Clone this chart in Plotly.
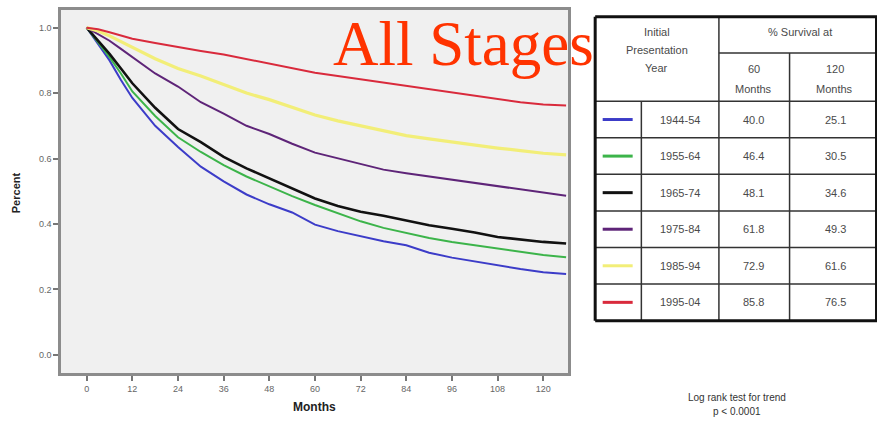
import plotly.graph_objects as go

# ---------------- data ----------------
months = [0, 3, 6, 9, 12, 18, 24, 30, 36, 42, 48, 54, 60, 66, 72, 78, 84, 90, 96, 102, 108, 114, 120, 126]

s_1944_54 = [1.0, 0.95, 0.90, 0.84, 0.785, 0.70, 0.635, 0.575, 0.53, 0.49, 0.46, 0.435, 0.398, 0.378, 0.362, 0.347, 0.335, 0.312, 0.297, 0.285, 0.272, 0.262, 0.252, 0.247]
s_1955_64 = [1.0, 0.955, 0.91, 0.86, 0.805, 0.73, 0.665, 0.62, 0.58, 0.545, 0.515, 0.485, 0.458, 0.432, 0.408, 0.388, 0.372, 0.357, 0.345, 0.335, 0.324, 0.313, 0.305, 0.298]
s_1965_74 = [1.0, 0.96, 0.92, 0.875, 0.83, 0.755, 0.69, 0.65, 0.605, 0.57, 0.54, 0.51, 0.478, 0.455, 0.437, 0.425, 0.41, 0.396, 0.385, 0.374, 0.36, 0.352, 0.345, 0.34]
s_1975_84 = [1.0, 0.98, 0.96, 0.935, 0.91, 0.86, 0.82, 0.772, 0.737, 0.70, 0.675, 0.645, 0.618, 0.60, 0.582, 0.566, 0.555, 0.545, 0.535, 0.525, 0.515, 0.505, 0.494, 0.486]
s_1985_94 = [1.0, 0.99, 0.975, 0.957, 0.94, 0.905, 0.875, 0.852, 0.826, 0.80, 0.78, 0.756, 0.733, 0.715, 0.70, 0.685, 0.67, 0.66, 0.65, 0.64, 0.632, 0.624, 0.616, 0.611]
s_1995_04 = [1.0, 0.995, 0.986, 0.977, 0.966, 0.953, 0.94, 0.929, 0.918, 0.904, 0.89, 0.877, 0.862, 0.852, 0.842, 0.83, 0.82, 0.81, 0.80, 0.79, 0.78, 0.772, 0.765, 0.762]

periods = ["1944-54", "1955-64", "1965-74", "1975-84", "1985-94", "1995-04"]
surv60 = ["40.0", "46.4", "48.1", "61.8", "72.9", "85.8"]
surv120 = ["25.1", "30.5", "34.6", "49.3", "61.6", "76.5"]
series = [s_1944_54, s_1955_64, s_1965_74, s_1975_84, s_1985_94, s_1995_04]
colors = ["#3c3cc8", "#3cb44a", "#111111", "#5e2478", "#f2ee78", "#d92a3c"]
widths = [2, 2, 2.6, 2, 3.2, 2]

x_ticks = [0, 12, 24, 36, 48, 60, 72, 84, 96, 108, 120]
y_ticks = [0.0, 0.2, 0.4, 0.6, 0.8, 1.0]
y_tick_text = ["0.0", "0.2", "0.4", "0.6", "0.8", "1.0"]

# ---------------- layout helpers ----------------
W, H = 877, 423
L, R, T, B = 61, 568.3, 7.3, 373.3


def px(x):
    return (x - L) / (R - L)


def py(y):
    return (B - y) / (B - T)


fig = go.Figure()
for name, ys, c, w in zip(periods, series, colors, widths):
    fig.add_trace(go.Scatter(x=months, y=ys, mode="lines", name=name,
                             line=dict(color=c, width=w), showlegend=False))

axis_font = dict(family="Liberation Sans, Arial", size=9, color="#666666")
fig.update_layout(
    width=W, height=H, autosize=False,
    margin=dict(l=L, r=W - R, t=T, b=H - B, pad=0),
    paper_bgcolor="white", plot_bgcolor="#f0f0f0",
    xaxis=dict(range=[-6.75, 126.5], tickvals=x_ticks, ticks="outside", ticklen=5,
               tickcolor="#777777", tickwidth=1.5, tickfont=axis_font,
               showgrid=False, zeroline=False, showline=True, linecolor="#8c8c8c",
               linewidth=2.5, mirror=True, fixedrange=True),
    yaxis=dict(range=[-0.0557, 1.054], tickvals=y_ticks, ticktext=y_tick_text,
               ticks="outside", ticklen=5, tickcolor="#777777", tickwidth=1.5,
               tickfont=axis_font, showgrid=False, zeroline=False, showline=True,
               linecolor="#8c8c8c", linewidth=2.5, mirror=True, fixedrange=True),
)

ann = []
shapes = []

# axis titles
ann.append(dict(text="<b>Percent</b>", x=px(16), y=py(192), xref="paper", yref="paper",
                textangle=-90, showarrow=False, xanchor="center", yanchor="middle",
                font=dict(family="Liberation Sans, Arial", size=11, color="#222222")))
ann.append(dict(text="<b>Months</b>", x=px(315), y=py(408), xref="paper", yref="paper",
                showarrow=False, xanchor="center", yanchor="middle",
                font=dict(family="Liberation Sans, Arial", size=12, color="#222222")))

# big title
ann.append(dict(text="All Stages", x=px(331), y=py(42), xref="paper", yref="paper",
                xanchor="left", yanchor="middle", showarrow=False,
                font=dict(family="Liberation Serif, Times New Roman", size=63, color="#ff3300")))

# table grid
tbl_font = dict(family="Liberation Sans, Arial", size=11, color="#4a4a4a")
TL, TR, TT, TB = 595.5, 878, 14, 320.5
c1, c2, c3 = 641.7, 719.3, 790
hdr_mid, hdr_bot = 50.7, 99.3
row_h = (TB - hdr_bot) / 6


def line(x0, y0, x1, y1, w=1.5, c="#333333"):
    shapes.append(dict(type="line", xref="paper", yref="paper",
                       x0=px(x0), y0=py(y0), x1=px(x1), y1=py(y1),
                       line=dict(color=c, width=w)))


line(c2, TT, c2, TB)
line(c3, hdr_mid, c3, TB)
line(c1, hdr_bot, c1, TB)
line(c2, hdr_mid, TR, hdr_mid)
for i in range(6):
    line(TL, hdr_bot + i * row_h, TR, hdr_bot + i * row_h)
# outer border
line(TL, TT, TR, TT, 3, "#111111")
line(TL, TB, TR, TB, 3, "#111111")
line(TL, TT, TL, TB, 3, "#111111")
line(TR - 1, TT, TR - 1, TB, 3, "#111111")


def txt(s, x, y, font=tbl_font):
    ann.append(dict(text=s, x=px(x), y=py(y), xref="paper", yref="paper",
                    showarrow=False, xanchor="center", yanchor="middle", font=font))


txt("Initial", 657, 29.5)
txt("Presentation", 657, 47.5)
txt("Year", 657, 65.5)
txt("% Survival at", 800, 29.5)
txt("60", 754, 66.5)
txt("Months", 754, 87)
txt("120", 835, 66.5)
txt("Months", 835, 87)

for i, (p, a, b, c) in enumerate(zip(periods, surv60, surv120, colors)):
    yc = hdr_bot + (i + 0.5) * row_h
    line(603, yc, 633, yc, 3, c)
    txt(p, 680, yc)
    txt(a, 754, yc)
    txt(b, 836, yc)

# footnote
foot = dict(family="Liberation Sans, Arial", size=10, color="#333333")
txt("Log rank test for trend", 737, 398, foot)
txt("p < 0.0001", 737, 412, foot)

fig.update_layout(annotations=ann, shapes=shapes)
fig.write_html("out.html", config={"displayModeBar": False},
               post_script="document.body.style.margin='0';document.body.style.overflow='hidden';")
